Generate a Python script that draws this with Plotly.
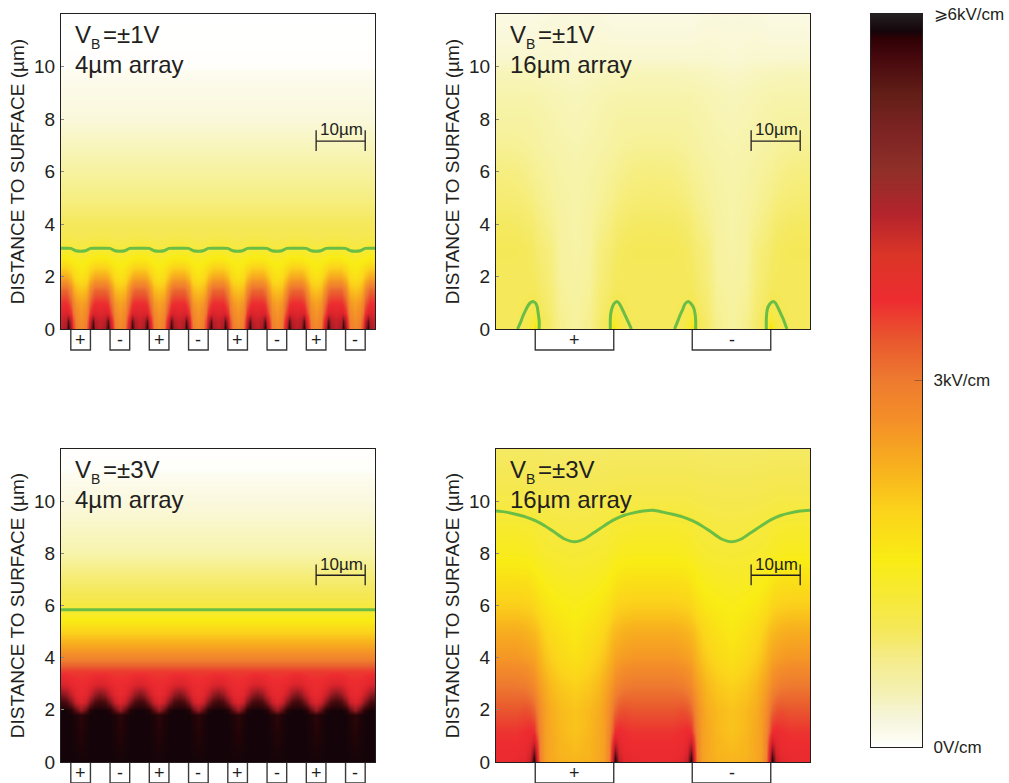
import numpy as np
import plotly.graph_objects as go

W, H = 1009, 783
INK = "#231f20"
GREEN = "#6abd45"
FONT = "Liberation Sans"

# colour scale (kV/cm -> colour)
scale_values = [0, 0.08, 0.22, 0.47, 0.71, 0.96, 1.2, 1.53, 1.94, 2.27, 2.68, 3.0, 3.34, 3.66,
                4.03, 4.36, 4.73, 5.06, 5.34, 5.63, 5.8, 5.86, 6.0]
bar_colors = ["#ffffff", "#fdfcf0", "#f6f5de", "#f4f0b0", "#f5ec8d", "#f5e85a", "#f6e93a", "#f9ec14",
              "#fbd31b", "#f8b31d", "#f48f28", "#ee7b2f", "#e9572e", "#ed2c30", "#db3527",
              "#b4242c", "#8f2f28", "#7c2323", "#631f17", "#48090e", "#2f0105", "#14040a", "#231f20"]
# the field panels run through purer dark reds than the printed bar
panel_colors = ["#ffffff", "#fdfcf0", "#faf8da", "#f7f3a8", "#f6ee80", "#f5e85a", "#f6e93a", "#f9ec14",
                "#fbd31b", "#f8b31d", "#f48f28", "#ee7b2f", "#e9572e", "#ed2c30", "#d9232b",
                "#bb1f28", "#951a20", "#701318", "#500c10", "#33060a", "#1f0407", "#14040a", "#14040a"]

# ---- panel A: VB=1V, 4 um array (half period: gap centre to electrode centre)
a_x = [0, 1, 1.5, 2, 2.5, 3, 4]
a_y = [0, 0.3, 0.6, 1, 1.5, 2, 2.5, 3, 3.5, 4, 5, 6, 8, 9.85, 10, 12]
a_z = [
    [4.3, 4.6, 5.7, 4.6, 3.6, 3.0, 2.8],
    [4.2, 4.4, 5.2, 4.2, 3.4, 2.9, 2.7],
    [3.9, 4.0, 3.95, 3.6, 3.1, 2.8, 2.6],
    [3.65, 3.65, 3.55, 3.25, 2.9, 2.6, 2.45],
    [3.2, 3.2, 3.05, 2.8, 2.45, 2.2, 2.1],
    [2.4, 2.4, 2.3, 2.15, 1.95, 1.8, 1.7],
    [1.75, 1.75, 1.7, 1.65, 1.6, 1.55, 1.5],
    [1.28, 1.28, 1.26, 1.24, 1.22, 1.2, 1.18],
    [1.05, 1.05, 1.05, 1.04, 1.03, 1.02, 1.02],
    [0.95, 0.95, 0.95, 0.95, 0.95, 0.95, 0.95],
    [0.7, 0.7, 0.7, 0.7, 0.7, 0.7, 0.7],
    [0.52, 0.52, 0.52, 0.52, 0.52, 0.52, 0.52],
    [0.22, 0.22, 0.22, 0.22, 0.22, 0.22, 0.22],
    [0.08, 0.08, 0.08, 0.08, 0.08, 0.08, 0.08],
    [0.02, 0.02, 0.02, 0.02, 0.02, 0.02, 0.02],
    [0.0, 0.0, 0.0, 0.0, 0.0, 0.0, 0.0],
]
a_line_x = [0, 1, 2, 3, 4]
a_line_y = [3.08, 3.08, 3.07, 2.98, 2.96]

# ---- panel B: VB=1V, 16 um array
b_x = [0, 4, 6, 7.5, 8, 9, 11, 13, 16]
b_y = [0, 0.3, 0.6, 1, 1.5, 2, 3, 4, 5, 6, 7, 8, 9, 9.8, 10.3, 12]
b_z = [
    [0.96, 0.96, 1.05, 1.3, 1.9, 1.02, 0.85, 0.62, 0.52],
    [0.96, 0.96, 1.03, 1.2, 1.35, 1.02, 0.85, 0.62, 0.52],
    [0.96, 0.96, 1.0, 1.1, 1.12, 0.98, 0.82, 0.6, 0.52],
    [0.95, 0.96, 0.98, 1.02, 1.02, 0.92, 0.8, 0.58, 0.52],
    [0.95, 0.96, 0.96, 0.96, 0.95, 0.88, 0.78, 0.56, 0.5],
    [0.95, 0.95, 0.95, 0.94, 0.92, 0.85, 0.74, 0.54, 0.5],
    [0.98, 0.98, 0.95, 0.9, 0.85, 0.8, 0.72, 0.52, 0.48],
    [0.92, 0.9, 0.86, 0.82, 0.78, 0.72, 0.62, 0.52, 0.47],
    [0.8, 0.78, 0.75, 0.7, 0.66, 0.62, 0.56, 0.5, 0.47],
    [0.72, 0.7, 0.65, 0.6, 0.58, 0.57, 0.52, 0.48, 0.46],
    [0.58, 0.57, 0.55, 0.53, 0.52, 0.5, 0.47, 0.45, 0.43],
    [0.5, 0.5, 0.5, 0.49, 0.48, 0.47, 0.45, 0.42, 0.4],
    [0.44, 0.44, 0.44, 0.44, 0.43, 0.43, 0.41, 0.39, 0.37],
    [0.38, 0.38, 0.37, 0.37, 0.36, 0.36, 0.35, 0.33, 0.31],
    [0.28, 0.28, 0.28, 0.28, 0.28, 0.28, 0.28, 0.27, 0.25],
    [0.16, 0.16, 0.16, 0.16, 0.16, 0.18, 0.2, 0.2, 0.2],
]
b_loops = [
    ([4.4, 5, 5.5, 6, 6.5, 7, 7.5, 8, 8.4, 8.6, 8.8, 8.8],
     [0, 0.25, 0.5, 0.7, 0.88, 1.0, 1.05, 1.0, 0.85, 0.6, 0.3, 0]),
    ([23.3, 23.3, 23.5, 24, 24.6, 25, 25.5, 26, 26.5, 27, 27.6],
     [0, 0.4, 0.7, 0.95, 1.05, 1.0, 0.85, 0.65, 0.45, 0.25, 0]),
    ([36.4, 37, 37.5, 38, 38.5, 39.2, 39.8, 40.3, 40.6, 40.7, 40.7],
     [0, 0.28, 0.52, 0.72, 0.95, 1.05, 0.95, 0.8, 0.55, 0.3, 0]),
    ([55.1, 55.1, 55.3, 55.8, 56.5, 57, 57.5, 58, 58.5, 59.3],
     [0, 0.4, 0.75, 0.95, 1.05, 0.98, 0.8, 0.6, 0.4, 0]),
]

# ---- panel C: VB=3V, 4 um array
c_x = [0, 1, 2, 3, 4]
c_y = [0, 1.8, 2.0, 2.3, 2.6, 3, 3.5, 4, 4.65, 5, 5.5, 6, 7, 8, 9, 10, 11, 11.2, 12]
c_z = [
    [5.86, 5.86, 5.86, 5.86, 5.86],
    [5.86, 5.86, 5.86, 5.8, 5.7],
    [5.86, 5.86, 5.75, 5.2, 4.7],
    [5.5, 5.4, 4.9, 4.2, 3.95],
    [4.9, 4.7, 4.2, 3.85, 3.75],
    [4.0, 3.95, 3.8, 3.72, 3.7],
    [3.55, 3.55, 3.55, 3.55, 3.55],
    [2.85, 2.85, 2.85, 2.85, 2.85],
    [2.25, 2.25, 2.25, 2.25, 2.25],
    [1.95, 1.95, 1.95, 1.95, 1.95],
    [1.5, 1.5, 1.5, 1.5, 1.5],
    [1.15, 1.15, 1.15, 1.15, 1.15],
    [0.8, 0.8, 0.8, 0.8, 0.8],
    [0.45, 0.45, 0.45, 0.45, 0.45],
    [0.32, 0.32, 0.32, 0.32, 0.32],
    [0.2, 0.2, 0.2, 0.2, 0.2],
    [0.08, 0.08, 0.08, 0.08, 0.08],
    [0.03, 0.03, 0.03, 0.03, 0.03],
    [0.01, 0.01, 0.01, 0.01, 0.01],
]
c_line_x = [0, 64]
c_line_y = [5.84, 5.84]

# ---- panel D: VB=3V, 16 um array
d_x = [0, 4, 6, 7, 7.7, 8.3, 9, 10, 11, 13, 16]
d_y = [0, 0.4, 0.8, 1.2, 2, 3, 4, 5, 6, 7, 8, 9, 10, 11, 12]
d_z = [
    [3.7, 3.75, 3.85, 4.3, 5.86, 4.0, 2.9, 2.5, 2.4, 2.3, 2.25],
    [3.7, 3.7, 3.75, 4.0, 5.0, 3.8, 2.85, 2.5, 2.4, 2.25, 2.2],
    [3.65, 3.65, 3.7, 3.8, 4.1, 3.5, 2.85, 2.5, 2.4, 2.25, 2.15],
    [3.6, 3.6, 3.65, 3.7, 3.65, 3.2, 2.8, 2.5, 2.4, 2.22, 2.1],
    [3.35, 3.35, 3.4, 3.35, 3.2, 2.95, 2.7, 2.5, 2.35, 2.2, 2.1],
    [3.0, 3.0, 2.95, 2.85, 2.75, 2.6, 2.5, 2.35, 2.2, 2.05, 1.95],
    [2.6, 2.6, 2.55, 2.5, 2.45, 2.35, 2.25, 2.1, 2.0, 1.85, 1.72],
    [2.35, 2.35, 2.3, 2.25, 2.2, 2.15, 2.05, 1.92, 1.82, 1.72, 1.6],
    [2.0, 2.0, 1.97, 1.95, 1.9, 1.82, 1.75, 1.68, 1.62, 1.55, 1.48],
    [1.72, 1.72, 1.7, 1.68, 1.62, 1.58, 1.52, 1.47, 1.42, 1.38, 1.35],
    [1.45, 1.45, 1.43, 1.41, 1.38, 1.35, 1.32, 1.29, 1.27, 1.25, 1.23],
    [1.3, 1.3, 1.28, 1.27, 1.25, 1.23, 1.2, 1.18, 1.16, 1.14, 1.12],
    [1.1, 1.1, 1.1, 1.1, 1.09, 1.08, 1.08, 1.07, 1.06, 1.05, 1.05],
    [1.0, 1.0, 1.0, 1.0, 1.0, 0.99, 0.99, 0.98, 0.98, 0.97, 0.97],
    [0.9, 0.9, 0.9, 0.9, 0.9, 0.9, 0.89, 0.89, 0.88, 0.88, 0.88],
]
d_line_x = [0, 2, 4, 6, 8, 10, 12, 14, 16, 18, 20, 22, 24, 26, 28, 30, 32]
d_line_y = [9.62, 9.58, 9.5, 9.4, 9.25, 9.05, 8.8, 8.55, 8.44, 8.55, 8.8, 9.05, 9.28, 9.45, 9.55, 9.62, 9.65]

# electrodes and labels
small_edges = [(2, 6, "+"), (10, 14, "-"), (18, 22, "+"), (26, 30, "-"),
               (34, 38, "+"), (42, 46, "-"), (50, 54, "+"), (58, 62, "-")]
large_edges = [(8, 24, "+"), (40, 56, "-")]
y_ticks = [0, 2, 4, 6, 8, 10]
bias_labels = ["=±1V", "=±1V", "=±3V", "=±3V"]
array_labels = ["4µm array", "16µm array", "4µm array", "16µm array"]
bar_ticks = [0, 3, 6]
bar_labels = ["0V/cm", "3kV/cm", "⩾6kV/cm"]


def unfold(half_x, half_z, period):
    """Mirror a half period about its end, then repeat it across the 64 um width."""
    half_x = list(half_x)
    half_z = np.array(half_z, dtype=float)
    cols_x = half_x + [period - v for v in half_x[-2:0:-1]]
    cols_z = np.hstack([half_z, half_z[:, -2:0:-1]])
    n = 64 // period
    full_x = []
    for k in range(n):
        full_x += [v + k * period for v in cols_x]
    full_x.append(64)
    full_z = np.hstack([np.tile(cols_z, (1, n)), cols_z[:, :1]])
    return full_x, full_z


# panel pixel boxes: left, right, top, bottom
boxes = [(61, 375, 14, 329), (496, 810, 14, 329), (61, 375, 449, 762), (496, 810, 449, 762)]

fig = go.Figure()
layout = {}
shapes = []
annotations = []
fields = [
    (a_x, a_y, a_z, 8, small_edges),
    (b_x, b_y, b_z, 32, large_edges),
    (c_x, c_y, c_z, 8, small_edges),
    (d_x, d_y, d_z, 32, large_edges),
]

a_lx, a_ly = unfold(a_line_x, [a_line_y], 8)
d_full_x = d_line_x + [v + 32 for v in d_line_x[1:]]
d_full_y = d_line_y + d_line_y[1:]
lines = [
    [(a_lx, list(a_ly[0]))],
    b_loops,
    [(c_line_x, c_line_y)],
    [(d_full_x, d_full_y)],
]


def label(xr, yr, x, y, text, size, **kw):
    annotations.append(dict(xref=xr, yref=yr, x=x, y=y, text=text, showarrow=False,
                            font=dict(size=size, color=INK, family=FONT), **kw))


for i, ((fx, fy, fz, period, edges), (l, r, t, b)) in enumerate(zip(fields, boxes)):
    n = "" if i == 0 else str(i + 1)
    xa, ya = "xaxis" + n, "yaxis" + n
    xr, yr = "x" + n, "y" + n
    layout[xa] = dict(domain=[l / W, r / W], range=[0, 64], showticklabels=False, ticks="",
                      showgrid=False, zeroline=False, showline=True, mirror=True, automargin=False,
                      linecolor=INK, linewidth=1.3, anchor=yr)
    layout[ya] = dict(domain=[(H - b) / H, (H - t) / H], range=[0, 12], tickvals=y_ticks,
                      ticks="inside", ticklen=3, tickcolor="#8a8a7a", tickwidth=1, ticklabelstandoff=1,
                      showgrid=False, zeroline=False, showline=True, mirror=True, automargin=False,
                      linecolor=INK, linewidth=1.3, anchor=xr,
                      tickfont=dict(size=19, color=INK, family=FONT),
                      title=dict(text="DISTANCE TO SURFACE (µm)", standoff=4,
                                 font=dict(size=19, color=INK, family=FONT)))
    X, Z = unfold(fx, fz, period)
    fig.add_trace(go.Heatmap(x=X, y=fy, z=Z, coloraxis="coloraxis", zsmooth="best",
                             xaxis=xr, yaxis=yr, hoverinfo="skip"))
    for lx, ly in lines[i]:
        fig.add_trace(go.Scatter(x=lx, y=ly, mode="lines", xaxis=xr, yaxis=yr, showlegend=False,
                                 hoverinfo="skip",
                                 line=dict(color=GREEN, width=3, shape="spline", smoothing=0.6)))
    # electrodes below the axis
    for x0, x1, sign in edges:
        shapes.append(dict(type="rect", xref=xr, yref="paper", x0=x0, x1=x1,
                           y0=(H - b - 21) / H, y1=(H - b) / H, layer="below",
                           line=dict(color="#3a3a3a", width=1.4), fillcolor="white"))
        label(xr, yr, (x0 + x1) / 2, 0, sign, 18, yshift=-10.5, yanchor="middle", borderpad=0)
    # 10 um scale bar
    for sx0, sx1, sy0, sy1 in [(52, 62, 7.16, 7.16), (52, 52, 6.78, 7.57), (62, 62, 6.78, 7.57)]:
        shapes.append(dict(type="line", xref=xr, yref=yr, x0=sx0, x1=sx1, y0=sy0, y1=sy1,
                           line=dict(color=INK, width=1.3)))
    label(xr, yr, 57.2, 7.15, "10µm", 17, yanchor="bottom")
    label(xr, yr, 2.5, 11.21, "V", 24, xanchor="left", yanchor="middle")
    label(xr, yr, 5.8, 10.84, "B", 14, xanchor="left", yanchor="middle")
    label(xr, yr, 8.2, 11.21, bias_labels[i], 24, xanchor="left", yanchor="middle")
    label(xr, yr, 2.5, 10.06, array_labels[i], 24, xanchor="left", yanchor="middle")

panel_scale = [[v / 6, c] for v, c in zip(scale_values, panel_colors)]
bar_scale = [[v / 6, c] for v, c in zip(scale_values, bar_colors)]

# colour bar as its own small axis, drawn from the scale values
fig.add_trace(go.Heatmap(x=[0, 1], y=scale_values, z=[[v, v] for v in scale_values], zmin=0, zmax=6,
                         colorscale=bar_scale, showscale=False, zsmooth="best",
                         xaxis="x5", yaxis="y5", hoverinfo="skip"))
layout["xaxis5"] = dict(domain=[871 / W, 922 / W], range=[0, 1], showticklabels=False, ticks="",
                        showgrid=False, zeroline=False, showline=True, mirror=True, automargin=False,
                        linecolor=INK, linewidth=1.2, anchor="y5")
layout["yaxis5"] = dict(domain=[(H - 747) / H, (H - 14) / H], range=[0, 6], side="right", anchor="x5",
                        tickvals=bar_ticks, ticktext=bar_labels, ticks="", ticklabelstandoff=7,
                        showgrid=False, zeroline=False, showline=True, mirror=True, automargin=False,
                        linecolor=INK, linewidth=1.2, tickfont=dict(size=17, color=INK, family=FONT))
# short mark on the colour bar at 3 kV/cm
shapes.append(dict(type="line", xref="x5", yref="y5", x0=0.85, x1=1, y0=3, y1=3,
                   line=dict(color="#a05a30", width=1)))

fig.update_layout(
    width=W, height=H, margin=dict(l=0, r=0, t=0, b=0, autoexpand=False),
    paper_bgcolor="white", plot_bgcolor="white",
    showlegend=False, shapes=shapes, annotations=annotations,
    font=dict(family=FONT, color=INK),
    coloraxis=dict(cmin=0, cmax=6, colorscale=panel_scale, showscale=False),
    **layout,
)
fig.write_html("out.html", config={"displayModeBar": False},
               post_script="document.body.style.margin='0';document.body.style.overflow='hidden';")
